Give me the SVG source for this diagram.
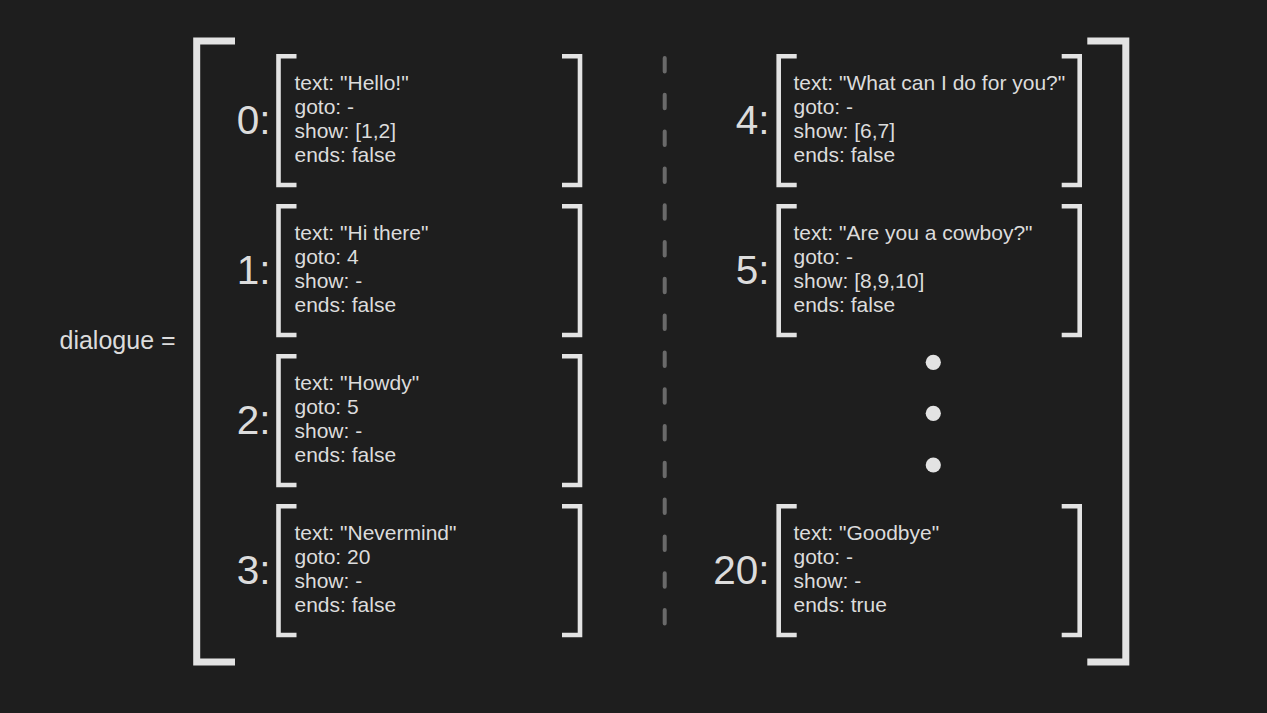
<svg xmlns="http://www.w3.org/2000/svg" width="1267" height="713" viewBox="0 0 1267 713">
<style>
.bg{fill:#1e1e1e}
.big{fill:none;stroke:#e3e3e3;stroke-width:7;stroke-linecap:butt;stroke-linejoin:miter}
.sm{fill:none;stroke:#e3e3e3;stroke-width:4.6;stroke-linecap:butt;stroke-linejoin:miter}
.t{font-family:"Liberation Sans",Arial,sans-serif;font-size:21px;fill:#dcdcdc}
.idx{font-family:"Liberation Sans",Arial,sans-serif;font-size:40.5px;fill:#dcdcdc;text-anchor:end}
.lbl{font-family:"Liberation Sans",Arial,sans-serif;font-size:25px;fill:#dcdcdc}
.sep{stroke:#6a6a6a;stroke-width:4;stroke-linecap:round;stroke-dasharray:13.5 23.3;fill:none}
.dot{fill:#e3e3e3}
</style>
<defs>
<g id="brL"><path class="sm" d="M20.5,2.3 H2.5 V131 H20.5"/><path class="sm" d="M286,2.3 H304 V131 H286"/></g>
</defs>
<rect class="bg" x="0" y="0" width="1267" height="713"/>
<text class="lbl" x="59.5" y="349">dialogue =</text>
<g id="outer">
<path class="big" d="M235,41 H196.7 V662 H235"/>
<path class="big" d="M1087.3,41 H1125.8 V662 H1087.3"/>
</g>
<g id="connectors">
<line class="sep" x1="664.7" y1="58" x2="664.7" y2="624"/>
</g>
<g id="node0" transform="translate(0,54)">
<text class="idx" x="270.5" y="80">0:</text>
<use href="#brL" x="276" y="0"/>
<text class="t" x="294.5" y="36">text: "Hello!"</text>
<text class="t" x="294.5" y="60">goto: -</text>
<text class="t" x="294.5" y="84">show: [1,2]</text>
<text class="t" x="294.5" y="108">ends: false</text>
</g>
<g id="node1" transform="translate(0,204)">
<text class="idx" x="270.5" y="80">1:</text>
<use href="#brL" x="276" y="0"/>
<text class="t" x="294.5" y="36">text: "Hi there"</text>
<text class="t" x="294.5" y="60">goto: 4</text>
<text class="t" x="294.5" y="84">show: -</text>
<text class="t" x="294.5" y="108">ends: false</text>
</g>
<g id="node2" transform="translate(0,354)">
<text class="idx" x="270.5" y="80">2:</text>
<use href="#brL" x="276" y="0"/>
<text class="t" x="294.5" y="36">text: "Howdy"</text>
<text class="t" x="294.5" y="60">goto: 5</text>
<text class="t" x="294.5" y="84">show: -</text>
<text class="t" x="294.5" y="108">ends: false</text>
</g>
<g id="node3" transform="translate(0,504)">
<text class="idx" x="270.5" y="80">3:</text>
<use href="#brL" x="276" y="0"/>
<text class="t" x="294.5" y="36">text: "Nevermind"</text>
<text class="t" x="294.5" y="60">goto: 20</text>
<text class="t" x="294.5" y="84">show: -</text>
<text class="t" x="294.5" y="108">ends: false</text>
</g>
<g id="node4" transform="translate(499,54)">
<text class="idx" x="270.5" y="80">4:</text>
<path class="sm" d="M297.7,2.3 H279.7 V131 H297.7"/>
<path class="sm" d="M562.7,2.3 H580.7 V131 H562.7"/>
<text class="t" x="294.5" y="36">text: "What can I do for you?"</text>
<text class="t" x="294.5" y="60">goto: -</text>
<text class="t" x="294.5" y="84">show: [6,7]</text>
<text class="t" x="294.5" y="108">ends: false</text>
</g>
<g id="node5" transform="translate(499,204)">
<text class="idx" x="270.5" y="80">5:</text>
<path class="sm" d="M297.7,2.3 H279.7 V131 H297.7"/>
<path class="sm" d="M562.7,2.3 H580.7 V131 H562.7"/>
<text class="t" x="294.5" y="36">text: "Are you a cowboy?"</text>
<text class="t" x="294.5" y="60">goto: -</text>
<text class="t" x="294.5" y="84">show: [8,9,10]</text>
<text class="t" x="294.5" y="108">ends: false</text>
</g>
<g id="ellipsis">
<circle class="dot" cx="933.3" cy="362.3" r="7.6"/>
<circle class="dot" cx="933.3" cy="413.3" r="7.6"/>
<circle class="dot" cx="933.3" cy="465" r="7.6"/>
</g>
<g id="node20" transform="translate(499,504)">
<text class="idx" x="270.5" y="80">20:</text>
<path class="sm" d="M297.7,2.3 H279.7 V131 H297.7"/>
<path class="sm" d="M562.7,2.3 H580.7 V131 H562.7"/>
<text class="t" x="294.5" y="36">text: "Goodbye"</text>
<text class="t" x="294.5" y="60">goto: -</text>
<text class="t" x="294.5" y="84">show: -</text>
<text class="t" x="294.5" y="108">ends: true</text>
</g>
</svg>
